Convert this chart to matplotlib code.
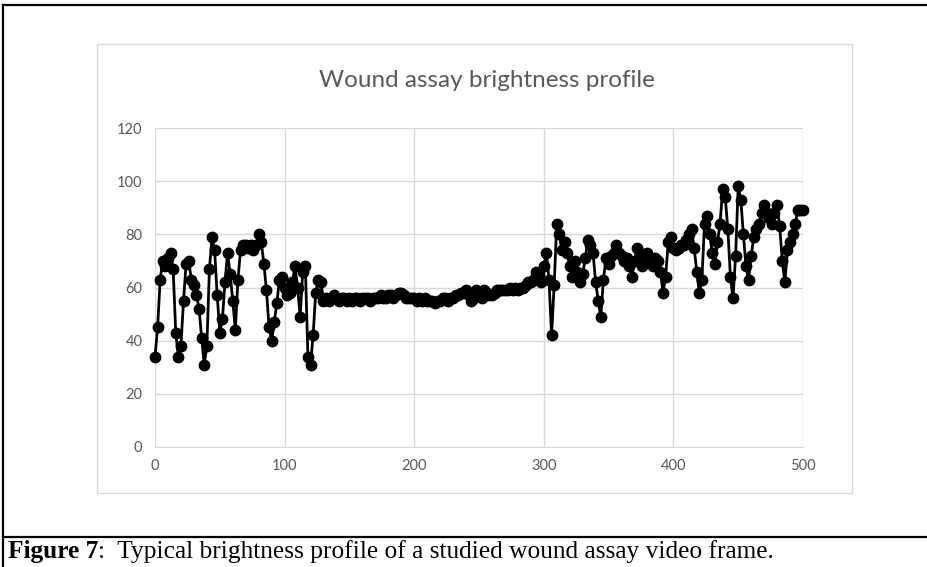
import matplotlib
matplotlib.use("Agg")
import matplotlib.pyplot as plt
from matplotlib.lines import Line2D
from matplotlib.patches import Rectangle

# brightness profile (position along the frame, brightness)
position = list(range(0, 502, 2))
brightness = [
    34, 45, 63, 70, 68, 71, 73, 67, 43, 34,
    38, 55, 69, 70, 63, 61, 57, 52, 41, 31,
    38, 67, 79, 74, 57, 43, 48, 62, 73, 65,
    55, 44, 63, 74, 76, 76, 75, 76, 74, 76,
    80, 77, 69, 59, 45, 40, 47, 54, 63, 64,
    60, 57, 58, 62, 68, 60, 49, 66, 68, 34,
    31, 42, 58, 63, 62, 55, 56, 55, 56, 57,
    56, 55, 56, 56, 55, 56, 55, 56, 56, 55,
    56, 56, 56, 55, 56, 56, 56, 57, 56, 56,
    57, 57, 56, 57, 58, 58, 57, 56, 56, 56,
    56, 55, 56, 55, 56, 55, 55, 55, 54, 55,
    55, 56, 56, 55, 56, 56, 57, 57, 58, 58,
    59, 57, 55, 56, 59, 57, 56, 59, 58, 57,
    57, 58, 59, 59, 59, 59, 59, 60, 59, 60,
    59, 60, 60, 61, 62, 62, 63, 66, 65, 62,
    68, 73, 63, 42, 61, 84, 80, 74, 77, 73,
    68, 64, 70, 66, 62, 65, 71, 78, 76, 73,
    62, 55, 49, 63, 71, 69, 72, 73, 76, 73,
    72, 70, 71, 68, 64, 70, 75, 73, 68, 70,
    73, 71, 68, 71, 70, 66, 58, 64, 77, 79,
    75, 74, 75, 76, 76, 78, 80, 82, 75, 66,
    58, 63, 84, 87, 80, 73, 69, 77, 84, 97,
    94, 82, 64, 56, 72, 98, 93, 80, 68, 63,
    72, 79, 82, 84, 88, 91, 88, 86, 84, 88,
    91, 83, 70, 62, 74, 77, 80, 84, 89, 89,
    89,
]
position = position[:len(brightness)]

x_ticks = [0, 100, 200, 300, 400, 500]
y_ticks = [0, 20, 40, 60, 80, 100, 120]

title = "Wound assay brightness profile"
caption_bold = "Figure 7"
caption_rest = ":  Typical brightness profile of a studied wound assay video frame."

W, H = 927, 567
fig = plt.figure(figsize=(W / 100, H / 100), dpi=100)
fig.patch.set_facecolor("white")

# frame around the chart and the caption
fig.add_artist(Line2D([3 / W, 3 / W], [0, 1 - 5 / H], color="black", lw=1.6))
fig.add_artist(Line2D([3 / W, 1], [1 - 5 / H, 1 - 5 / H], color="black", lw=1.6))
fig.add_artist(Line2D([3 / W, 1], [1 - 537 / H, 1 - 537 / H], color="black", lw=1.6))
fig.add_artist(Rectangle((97 / W, 1 - 493 / H), (852 - 97) / W, (493 - 44) / H,
                         fill=False, edgecolor="#d9d9d9", lw=1.0))

ax = fig.add_axes([155 / W, 1 - 447 / H, 648 / W, 319 / H])
ax.plot(position, brightness, color="black", lw=2.0, marker="o", ms=7.5,
        markerfacecolor="black", markeredgecolor="black", clip_on=False)

ax.set_xlim(0, 500)
ax.set_ylim(0, 120)
ax.set_xticks(x_ticks)
ax.set_yticks(y_ticks)
ax.grid(True, color="#d9d9d9", lw=1.0)
ax.set_axisbelow(True)
for side in ["top", "right", "left"]:
    ax.spines[side].set_visible(False)
ax.spines["bottom"].set_color("#d9d9d9")
ax.tick_params(length=0, colors="#595959", labelsize=10.5, pad=9)
for lab in ax.get_xticklabels() + ax.get_yticklabels():
    lab.set_fontfamily("Lato")

fig.text(487 / W, 1 - 81 / H, title, ha="center", va="center",
         fontsize=17.5, color="#595959", family="Lato")

# caption: bold label, then plain text right after it
fig.canvas.draw()
t1 = fig.text(8 / W, 1 - 558 / H, caption_bold, ha="left", va="baseline",
              fontsize=18.3, fontweight="bold", family="Liberation Serif")
bb = t1.get_window_extent(fig.canvas.get_renderer())
fig.text(bb.x1 / W, 1 - 558 / H, caption_rest, ha="left", va="baseline",
         fontsize=18.3, family="Liberation Serif")

fig.savefig("out.png", dpi=100)
